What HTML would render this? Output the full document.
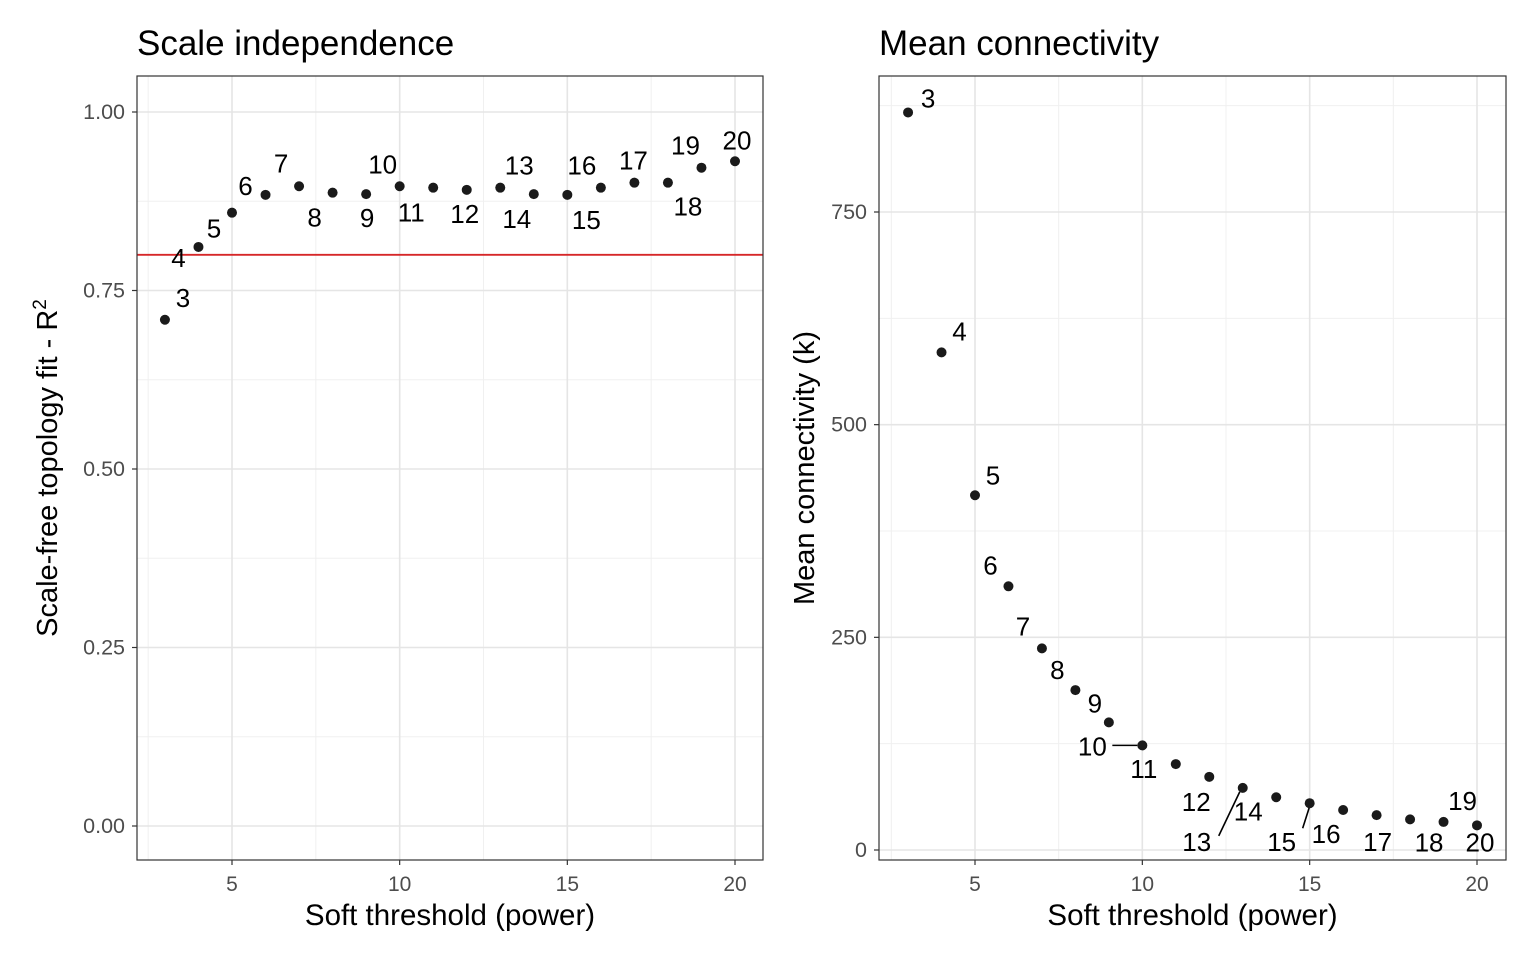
<!DOCTYPE html>
<html><head><meta charset="utf-8"><style>
body{margin:0;background:#fff}
svg{display:block;font-family:"Liberation Sans",Arial,sans-serif}
</style></head><body>
<svg id="c" width="1536" height="960" viewBox="0 0 1536 960"></svg>
<script>
const powers=[3,4,5,6,7,8,9,10,11,12,13,14,15,16,17,18,19,20];
const fitR2=[0.709,0.811,0.859,0.884,0.896,0.887,0.885,0.896,0.894,0.891,0.894,0.885,0.884,0.894,0.901,0.901,0.922,0.931];
const meanK=[867,585,417,310,237,188,150,123,101,86,73,62,55,47,41,36,33,29];
const xTicks=[5,10,15,20];
const yTicksL=[0,0.25,0.5,0.75,1.0];
const yTickLabelsL=["0.00","0.25","0.50","0.75","1.00"];
const yTicksR=[0,250,500,750];
const yTickLabelsR=["0","250","500","750"];
const cutoff=0.8;
// label offsets (styling)
const offL=[[18,-22],[-20,11],[-18,16],[-20,-9],[-18,-23],[-18,25],[1,24],[-17,-22],[-22,25],[-2,24],[19,-22],[-17,25],[19,25],[-19,-22],[-1,-22],[20,24],[-16,-22],[2,-21]];
const offR=[[20,-14],[18,-21],[18,-20],[-18,-21],[-19,-22],[-18,-20],[-14,-19],[-50,1],[-32,5],[-13,25],[-46,54],[-28,14],[-28,39],[-17,24],[1,27],[19,23],[19,-21],[3,17]];
const segR={7:[-30,0],10:[-24,48],12:[-7,25]};

const NS="http://www.w3.org/2000/svg";
const svg=document.getElementById('c');
function mk(tag,attrs,parent){const e=document.createElementNS(NS,tag);for(const k in attrs)e.setAttribute(k,attrs[k]);(parent||svg).appendChild(e);return e;}

function panel(o){
  const g=mk('g',{});
  
  
  const X=v=>o.x0+(v-o.xd0)*(o.x1-o.x0)/(o.xd1-o.xd0);
  const Y=v=>o.y0+(v-o.yd0)*(o.y1-o.y0)/(o.yd1-o.yd0);
  const bg=mk('rect',{x:o.L,y:o.T,width:o.R-o.L,height:o.B-o.T,fill:'#fff'},g);
  
  for(const v of o.xMinor){const l=mk('line',{x1:X(v),x2:X(v),y1:o.T,y2:o.B,stroke:'#f0f0f0','stroke-width':1},g);}
  for(const v of o.yMinor){const y=Y(v);if(y<o.T)continue;const l=mk('line',{x1:o.L,x2:o.R,y1:y,y2:y,stroke:'#f0f0f0','stroke-width':1},g);}
  for(const v of xTicks){const l=mk('line',{x1:X(v),x2:X(v),y1:o.T,y2:o.B,stroke:'#e5e5e5','stroke-width':1.6},g);}
  o.yTicks.forEach(v=>{const l=mk('line',{x1:o.L,x2:o.R,y1:Y(v),y2:Y(v),stroke:'#e5e5e5','stroke-width':1.6},g);});
  if(o.hline!==undefined){const l=mk('line',{x1:o.L,x2:o.R,y1:Y(o.hline),y2:Y(o.hline),stroke:'#d62728','stroke-width':1.8},g);}
  if(o.segs){for(const i in o.segs){const px=X(powers[i]),py=Y(o.vals[i]);const s=o.segs[i];const l=mk('line',{x1:px+s[0],y1:py+s[1],x2:px+(s[0]===-30?-5:(i==10?-3:0)),y2:py+(i==10?4:(i==12?3:0)),stroke:'#000','stroke-width':1.6},g);}}
  o.vals.forEach((v,i)=>{
    const c=mk('circle',{cx:X(powers[i]),cy:Y(v),r:5,fill:'#1a1a1a'},g);
    
    
    const t=mk('text',{x:X(powers[i])+o.off[i][0],y:Y(v)+o.off[i][1],'text-anchor':'middle','dominant-baseline':'central','font-size':26,fill:'#000'},g);
    t.textContent=powers[i];
    
    
  });
  const fr=mk('rect',{x:o.L,y:o.T,width:o.R-o.L,height:o.B-o.T,fill:'none',stroke:'#333','stroke-width':1.2},g);
  
  for(const v of xTicks){
    const tk=mk('line',{x1:X(v),x2:X(v),y1:o.B,y2:o.B+5,stroke:'#333','stroke-width':1.2},g);
    const t=mk('text',{x:X(v),y:o.B+31,'text-anchor':'middle','font-size':21,fill:'#4d4d4d'},g);t.textContent=v;
    
  }
  o.yTicks.forEach((v,i)=>{
    const tk=mk('line',{x1:o.L-5,x2:o.L,y1:Y(v),y2:Y(v),stroke:'#333','stroke-width':1.2},g);
    const t=mk('text',{x:o.L-12,y:Y(v)+7,'text-anchor':'end','font-size':21.5,fill:'#4d4d4d'},g);t.textContent=o.yLabels[i];
    
  });
  const xt=mk('text',{x:(o.L+o.R)/2,y:925,'text-anchor':'middle','font-size':29.5,fill:'#000'},g);xt.textContent='Soft threshold (power)';
  
  const yt=mk('text',{x:0,y:0,'text-anchor':'middle','font-size':29,fill:'#000',transform:`translate(${o.ytx},${(o.T+o.B)/2}) rotate(-90)`},g);
  yt.innerHTML=o.ytitle;
  
  const ti=mk('text',{x:o.L,y:55,'font-size':35,fill:'#000'},g);ti.textContent=o.title;
  
}
panel({name:'scale-independence-panel',L:137,R:763,T:76,B:860,x0:232,x1:735,xd0:5,xd1:20,y0:826,y1:112,yd0:0,yd1:1,
  xMinor:[2.5,7.5,12.5,17.5],yMinor:[0.125,0.375,0.625,0.875],yTicks:yTicksL,yLabels:yTickLabelsL,vals:fitR2,off:offL,hline:cutoff,
  ytx:57,ytitle:'Scale-free topology fit - R<tspan dy="-11" font-size="19">2</tspan>',title:'Scale independence'});
panel({name:'mean-connectivity-panel',L:879,R:1506,T:76,B:860,x0:975,x1:1477,xd0:5,xd1:20,y0:850,y1:212,yd0:0,yd1:750,
  xMinor:[2.5,7.5,12.5,17.5],yMinor:[125,375,625,875],yTicks:yTicksR,yLabels:yTickLabelsR,vals:meanK,off:offR,segs:segR,
  ytx:814,ytitle:'Mean connectivity (k)',title:'Mean connectivity'});
</script>
</body></html>
